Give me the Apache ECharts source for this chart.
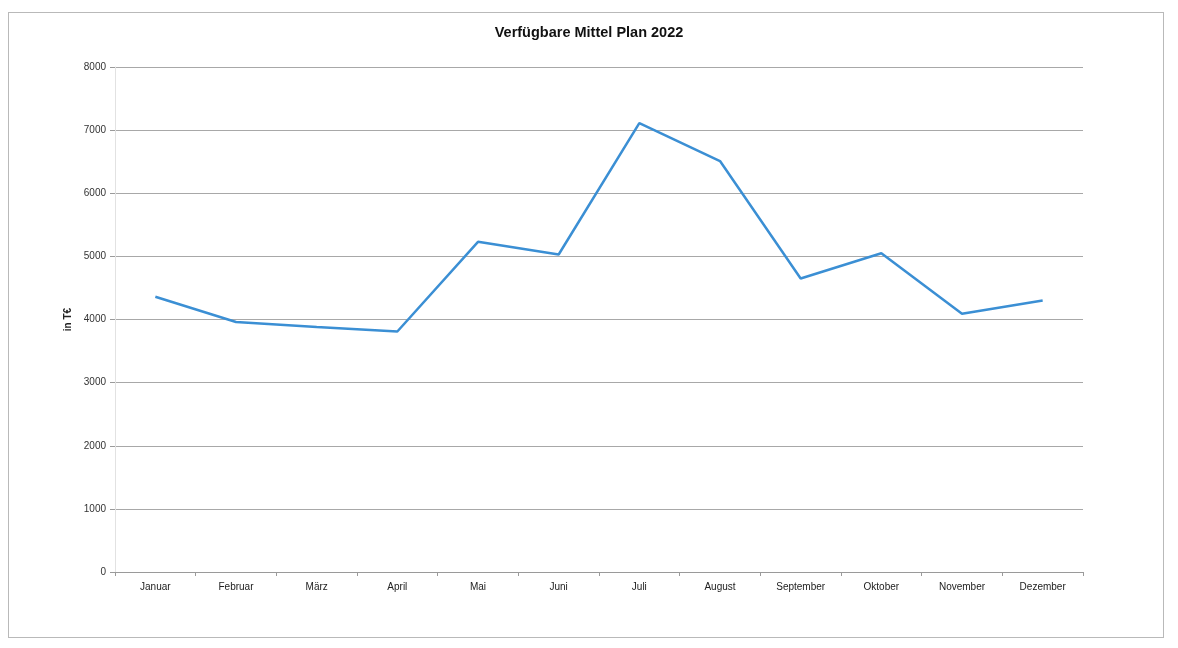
<!DOCTYPE html>
<html>
<head>
<meta charset="utf-8">
<script src="https://cdn.jsdelivr.net/npm/echarts@6/dist/echarts.min.js"></script>
<style>
html,body{margin:0;padding:0;background:#fff;}
#frame{position:absolute;left:8px;top:12px;width:1156px;height:626px;border:1px solid #b9b9b9;box-sizing:border-box;}
#chart{position:absolute;left:0;top:0;width:1178px;height:648px;}
</style>
</head>
<body>
<div id="frame"></div>
<div id="chart"></div>
<script>
const title = 'Verfügbare Mittel Plan 2022';
const yAxisName = 'in T€';
const months = ['Januar','Februar','März','April','Mai','Juni','Juli','August','September','Oktober','November','Dezember'];
const values = [4360, 3960, 3880, 3810, 5230, 5030, 7110, 6510, 4650, 5050, 4090, 4300];
const yMin = 0, yMax = 8000, yStep = 1000;

const font = '"Liberation Sans Narrow", "Arial Narrow", "Liberation Sans", sans-serif';
const chart = echarts.init(document.getElementById('chart'), null, {renderer:'canvas'});
chart.setOption({
  animation:false,
  backgroundColor:'transparent',
  title:{
    text:title, left:'center', top:20,
    textStyle:{fontFamily:font, fontSize:14.5, fontWeight:'bold', color:'#111'}
  },
  grid:{left:115, right:95, top:67, bottom:76, containLabel:false},
  xAxis:{
    type:'category', data:months, boundaryGap:true,
    axisLine:{show:true, lineStyle:{color:'#9a9a9a', width:1}},
    axisTick:{show:true, length:4, lineStyle:{color:'#9a9a9a'}},
    axisLabel:{fontFamily:font, fontSize:10, color:'#222', margin:10}
  },
  yAxis:{
    type:'value', min:yMin, max:yMax, interval:yStep,
    name:yAxisName, nameLocation:'middle', nameGap:38, nameRotate:90,
    nameTextStyle:{fontFamily:font, fontSize:10, fontWeight:'bold', color:'#222'},
    axisLine:{show:true, lineStyle:{color:'#e2e2e2', width:1}},
    axisTick:{show:true, length:5, lineStyle:{color:'#9a9a9a'}},
    axisLabel:{fontFamily:font, fontSize:10, color:'#333', margin:9, formatter:(v)=>String(v)},
    splitLine:{show:true, lineStyle:{color:'#a8a8a8', width:1}}
  },
  series:[{
    type:'line', data:values, showSymbol:false, symbol:'none',
    lineStyle:{color:'#3b8fd4', width:2.5}
  }]
});
</script>
</body>
</html>
